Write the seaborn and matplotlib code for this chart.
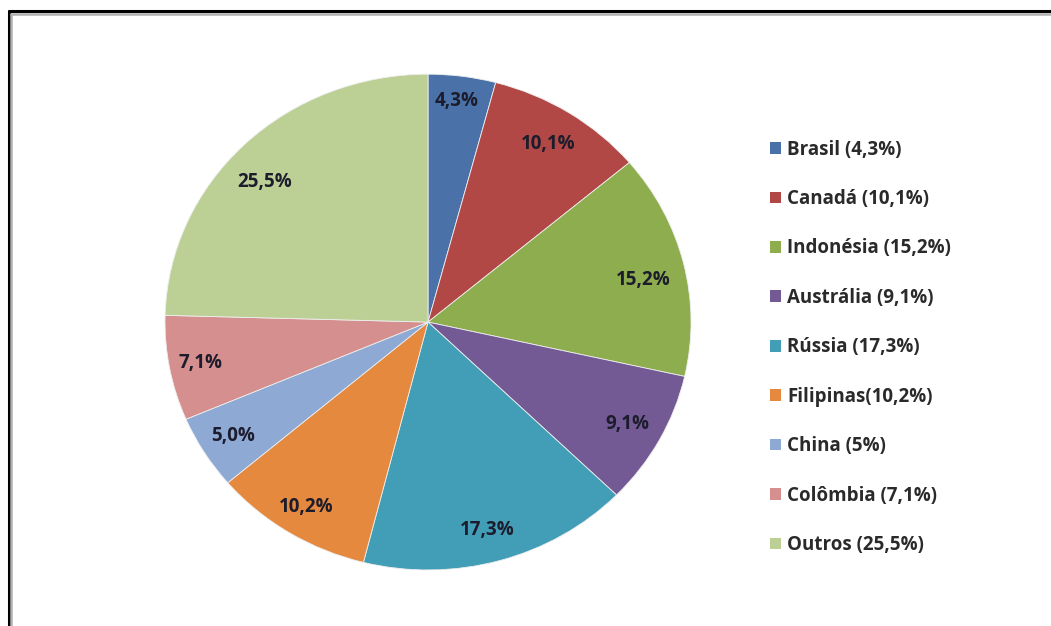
import matplotlib
matplotlib.use("Agg")
import matplotlib.pyplot as plt
from matplotlib.lines import Line2D
from matplotlib.patches import Patch
import numpy as np
import seaborn as sns

# Participação na produção mundial
paises = ["Brasil", "Canadá", "Indonésia", "Austrália", "Rússia",
          "Filipinas", "China", "Colômbia", "Outros"]
valores = [4.3, 10.1, 15.2, 9.1, 17.3, 10.2, 5.0, 7.1, 25.5]
rotulos_fatia = ["4,3%", "10,1%", "15,2%", "9,1%", "17,3%",
                 "10,2%", "5,0%", "7,1%", "25,5%"]
rotulos_legenda = ["Brasil (4,3%)", "Canadá (10,1%)", "Indonésia (15,2%)",
                   "Austrália (9,1%)", "Rússia (17,3%)", "Filipinas(10,2%)",
                   "China (5%)", "Colômbia (7,1%)", "Outros (25,5%)"]
cores = ["#4A71A8", "#B24846", "#8DAD4E", "#735A94", "#429DB6",
         "#E4893E", "#8EA9D4", "#D48F8E", "#BCD096"]

sns.set_theme(style="white")
plt.rcParams["font.family"] = ["Open Sans", "DejaVu Sans"]
paleta = sns.color_palette(cores)

fig = plt.figure(figsize=(10.51, 6.26), dpi=100)
fig.patch.set_facecolor("white")

ax = fig.add_axes([0.157, 0.0895, 0.5005, 0.792])
wedges, _ = ax.pie(valores, colors=paleta, startangle=90, counterclock=False,
                   wedgeprops=dict(edgecolor="#eeeeee", linewidth=0.6))
ax.set_aspect("auto")
ax.set_xlim(-1, 1)
ax.set_ylim(-1, 1)
ax.axis("off")

# rótulos dentro das fatias (raio relativo e pequeno ajuste angular)
dist = [0.90, 0.85, 0.835, 0.86, 0.87, 0.88, 0.87, 0.88, 0.84]
desvio = [0.5, 0, -2.0, 0, -0.8, 0, 0, 0, 3.5]
for w, txt, d, da in zip(wedges, rotulos_fatia, dist, desvio):
    ang = np.deg2rad((w.theta1 + w.theta2) / 2 + da)
    ax.text(d * np.cos(ang), d * np.sin(ang), txt, ha="center", va="center",
            fontsize=13.5, fontweight="bold", color="#1c1c2c")

handles = [Patch(facecolor=c, edgecolor="none") for c in paleta]
leg = fig.legend(handles, rotulos_legenda, loc="upper left",
                 bbox_to_anchor=(0.7165, 0.804), frameon=False,
                 fontsize=13.5, labelspacing=1.57, handlelength=0.58,
                 handleheight=0.58, handletextpad=0.33)
for t in leg.get_texts():
    t.set_fontweight("bold")
    t.set_color("#2a2a2a")

# moldura (apenas topo e esquerda visíveis)
W, H = 1051, 626
fig.add_artist(Line2D([8.5 / W, 1], [1 - 10.8 / H, 1 - 10.8 / H],
                      transform=fig.transFigure, color="black", lw=2.2))
fig.add_artist(Line2D([8.5 / W, 8.5 / W], [0, 1 - 10.8 / H],
                      transform=fig.transFigure, color="black", lw=2.2))
fig.add_artist(Line2D([11.3 / W, 1], [1 - 13.6 / H, 1 - 13.6 / H],
                      transform=fig.transFigure, color="#b0b0b0", lw=1.8))
fig.add_artist(Line2D([11.3 / W, 11.3 / W], [0, 1 - 13.6 / H],
                      transform=fig.transFigure, color="#b0b0b0", lw=1.8))

fig.savefig("out.png", dpi=100, facecolor="white")
